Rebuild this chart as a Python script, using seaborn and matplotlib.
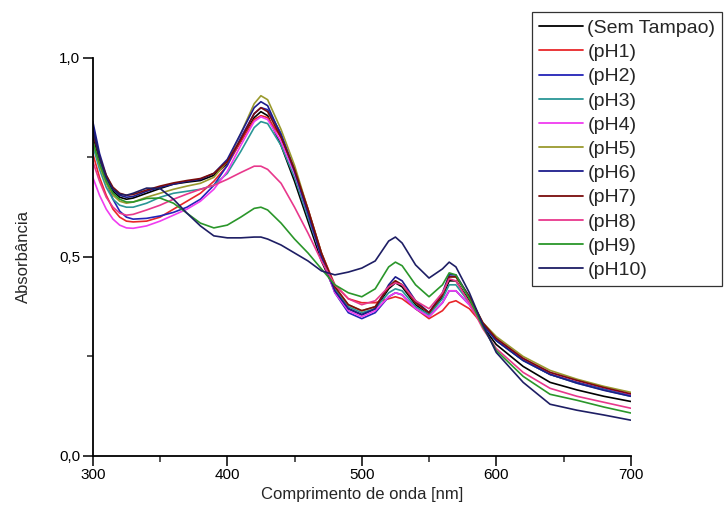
import matplotlib
matplotlib.use("Agg")
import matplotlib.pyplot as plt
from matplotlib.ticker import MultipleLocator, FuncFormatter
import seaborn as sns
import pandas as pd

# Wavelength grid (nm)
wavelength = [300, 305, 310, 315, 320, 325, 330, 340, 350, 360, 370, 380, 390, 400,
              410, 420, 425, 430, 440, 450, 460, 470, 480, 490, 500, 510, 520, 525,
              530, 540, 550, 560, 565, 570, 580, 590, 600, 620, 640, 660, 680, 700]

# Absorbance spectra, one list per sample
sem_tampao = [0.80, 0.745, 0.70, 0.665, 0.65, 0.645, 0.648, 0.66, 0.672, 0.683, 0.688, 0.692, 0.705, 0.735,
              0.79, 0.85, 0.865, 0.855, 0.78, 0.69, 0.59, 0.49, 0.415, 0.37, 0.355, 0.37, 0.42, 0.435,
              0.425, 0.38, 0.355, 0.40, 0.44, 0.44, 0.39, 0.325, 0.28, 0.225, 0.185, 0.166, 0.15, 0.137]
ph1 = [0.76, 0.70, 0.655, 0.62, 0.60, 0.59, 0.588, 0.59, 0.60, 0.62, 0.64, 0.66, 0.69, 0.73,
       0.79, 0.845, 0.855, 0.85, 0.80, 0.72, 0.62, 0.51, 0.43, 0.395, 0.385, 0.385, 0.395, 0.40,
       0.395, 0.37, 0.345, 0.365, 0.385, 0.39, 0.37, 0.33, 0.295, 0.245, 0.205, 0.185, 0.168, 0.152]
ph2 = [0.83, 0.75, 0.69, 0.645, 0.615, 0.60, 0.595, 0.597, 0.603, 0.612, 0.625, 0.645, 0.68, 0.73,
       0.80, 0.86, 0.875, 0.87, 0.81, 0.72, 0.61, 0.50, 0.41, 0.36, 0.345, 0.36, 0.40, 0.41,
       0.405, 0.37, 0.35, 0.385, 0.415, 0.415, 0.38, 0.33, 0.29, 0.24, 0.205, 0.185, 0.168, 0.153]
ph3 = [0.78, 0.72, 0.675, 0.645, 0.63, 0.625, 0.625, 0.635, 0.65, 0.66, 0.665, 0.67, 0.68, 0.71,
       0.765, 0.825, 0.84, 0.835, 0.78, 0.70, 0.60, 0.50, 0.42, 0.375, 0.36, 0.37, 0.41, 0.42,
       0.415, 0.375, 0.355, 0.395, 0.43, 0.43, 0.385, 0.33, 0.29, 0.24, 0.205, 0.183, 0.166, 0.15]
ph4 = [0.70, 0.655, 0.62, 0.595, 0.58, 0.573, 0.572, 0.578, 0.59, 0.605, 0.62, 0.64, 0.67, 0.715,
       0.78, 0.84, 0.852, 0.845, 0.79, 0.71, 0.61, 0.50, 0.41, 0.365, 0.35, 0.365, 0.40, 0.41,
       0.405, 0.37, 0.35, 0.385, 0.415, 0.415, 0.38, 0.33, 0.295, 0.245, 0.21, 0.19, 0.172, 0.155]
ph5 = [0.79, 0.73, 0.685, 0.655, 0.64, 0.635, 0.638, 0.65, 0.66, 0.67, 0.678, 0.685, 0.70, 0.74,
       0.81, 0.885, 0.905, 0.895, 0.82, 0.73, 0.62, 0.51, 0.425, 0.38, 0.365, 0.375, 0.425, 0.44,
       0.43, 0.385, 0.36, 0.405, 0.45, 0.45, 0.40, 0.335, 0.30, 0.25, 0.215, 0.193, 0.175, 0.16]
ph6 = [0.84, 0.76, 0.705, 0.67, 0.655, 0.65, 0.652, 0.665, 0.675, 0.683, 0.69, 0.695, 0.71, 0.745,
       0.81, 0.875, 0.89, 0.88, 0.805, 0.715, 0.61, 0.50, 0.415, 0.37, 0.355, 0.37, 0.43, 0.45,
       0.44, 0.39, 0.36, 0.41, 0.455, 0.455, 0.40, 0.33, 0.29, 0.24, 0.205, 0.183, 0.165, 0.15]
ph7 = [0.81, 0.75, 0.705, 0.675, 0.66, 0.655, 0.657, 0.668, 0.678, 0.686, 0.692, 0.697, 0.71, 0.74,
       0.795, 0.86, 0.875, 0.865, 0.80, 0.72, 0.62, 0.51, 0.425, 0.38, 0.365, 0.375, 0.425, 0.44,
       0.43, 0.385, 0.36, 0.405, 0.45, 0.45, 0.40, 0.335, 0.295, 0.245, 0.21, 0.19, 0.172, 0.156]
ph8 = [0.74, 0.69, 0.65, 0.625, 0.61, 0.605, 0.607, 0.618, 0.63, 0.645, 0.658, 0.67, 0.68, 0.695,
       0.712, 0.728, 0.728, 0.72, 0.685, 0.625, 0.56, 0.49, 0.43, 0.395, 0.38, 0.39, 0.425, 0.435,
       0.43, 0.39, 0.37, 0.41, 0.445, 0.44, 0.385, 0.32, 0.27, 0.21, 0.17, 0.15, 0.135, 0.12]
ph9 = [0.79, 0.735, 0.69, 0.66, 0.645, 0.638, 0.638, 0.647, 0.648, 0.635, 0.61, 0.585, 0.573, 0.58,
       0.60, 0.622, 0.625, 0.618, 0.585, 0.545, 0.51, 0.47, 0.43, 0.41, 0.40, 0.42, 0.475, 0.487,
       0.478, 0.43, 0.40, 0.43, 0.46, 0.455, 0.395, 0.325, 0.265, 0.20, 0.155, 0.14, 0.123, 0.108]
ph10 = [0.82, 0.75, 0.70, 0.67, 0.658, 0.655, 0.66, 0.673, 0.672, 0.645, 0.61, 0.578, 0.553, 0.548,
        0.548, 0.55, 0.55, 0.545, 0.53, 0.51, 0.49, 0.465, 0.455, 0.462, 0.472, 0.49, 0.54, 0.55,
        0.535, 0.48, 0.447, 0.47, 0.487, 0.475, 0.41, 0.33, 0.26, 0.185, 0.13, 0.115, 0.103, 0.09]

labels = ["(Sem Tampao)", "(pH1)", "(pH2)", "(pH3)", "(pH4)", "(pH5)",
          "(pH6)", "(pH7)", "(pH8)", "(pH9)", "(pH10)"]
spectra = [sem_tampao, ph1, ph2, ph3, ph4, ph5, ph6, ph7, ph8, ph9, ph10]
colors = ["#000000", "#e8262a", "#2323b8", "#2a9696", "#f03cf0", "#9a9a2e",
          "#1c1c8c", "#7a0c0c", "#e8388c", "#2a962a", "#1e1e64"]

df = pd.concat(
    [pd.DataFrame({"wl": wavelength, "abs": s, "amostra": lab}) for lab, s in zip(labels, spectra)],
    ignore_index=True,
)

sns.set_style("ticks")
plt.rcParams["font.family"] = ["Liberation Sans", "DejaVu Sans"]

fig = plt.figure(figsize=(7.25, 5.19), dpi=100)
ax = fig.add_axes([0.128, 0.1214, 0.742, 0.767])

sns.lineplot(data=df, x="wl", y="abs", hue="amostra", hue_order=labels,
             palette=dict(zip(labels, colors)), linewidth=1.2, ax=ax, legend=False,
             estimator=None, sort=False)

ax.set_xlim(300, 700)
ax.set_ylim(0, 1.0)
ax.xaxis.set_major_locator(MultipleLocator(100))
ax.xaxis.set_minor_locator(MultipleLocator(50))
ax.yaxis.set_major_locator(MultipleLocator(0.5))
ax.yaxis.set_minor_locator(MultipleLocator(0.25))
ax.yaxis.set_major_formatter(FuncFormatter(lambda v, p: f"{v:.1f}".replace(".", ",")))
ax.tick_params(which="major", direction="out", length=7, width=1.1, labelsize=11,
               colors="black", pad=2)
ax.tick_params(which="minor", direction="out", length=4, width=1.1)
for side in ("top", "right"):
    ax.spines[side].set_visible(False)
for side in ("left", "bottom"):
    ax.spines[side].set_linewidth(1.3)
    ax.spines[side].set_color("black")

ax.set_xlabel("Comprimento de onda [nm]", fontsize=12, labelpad=3)
ax.set_ylabel("Absorbância", fontsize=12, labelpad=20)

handles = [plt.Line2D([], [], color=c, linewidth=1.3) for c in colors]
leg = fig.legend(handles, labels, loc="upper right", bbox_to_anchor=(0.996, 0.976),
                 fontsize=14, frameon=True, fancybox=False, shadow=False,
                 handlelength=2.3, handletextpad=0.2, labelspacing=0.34,
                 borderpad=0.35, borderaxespad=0.0)
leg.get_frame().set_edgecolor("black")
leg.get_frame().set_linewidth(0.9)

fig.savefig("out.png", dpi=100, facecolor="white")
